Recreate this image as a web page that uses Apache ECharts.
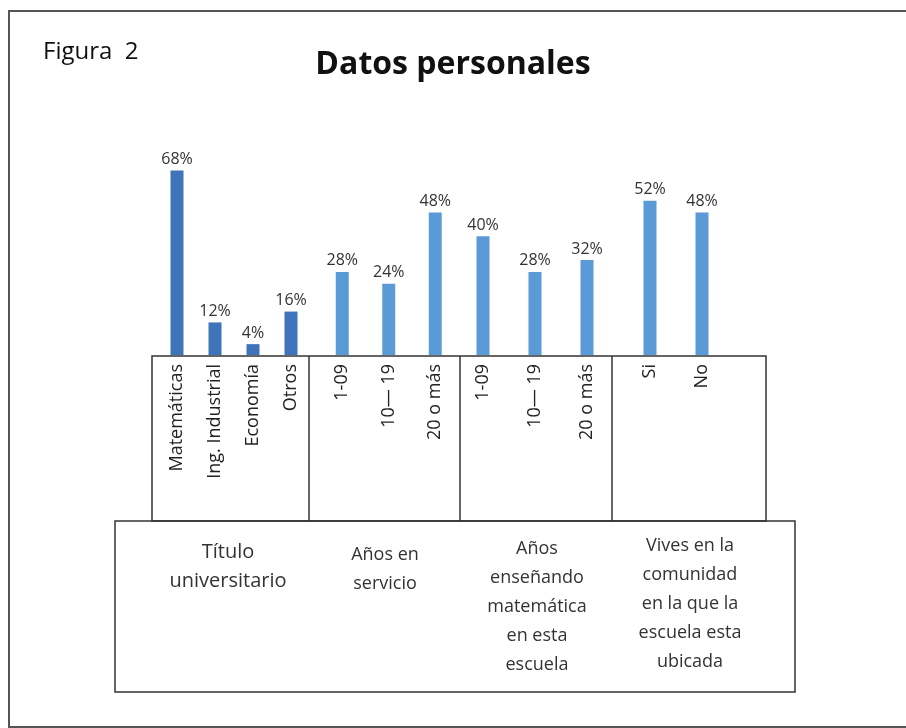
<!DOCTYPE html>
<html>
<head>
<meta charset="utf-8">
<title>Datos personales</title>
<script src="https://cdn.jsdelivr.net/npm/echarts@6/dist/echarts.min.js"></script>
<style>
  html, body { margin: 0; padding: 0; background: #fff; }
  #chart { width: 906px; height: 728px; }
</style>
</head>
<body>
<div id="chart"></div>
<script>
// datos de cada bloque
var titleCats = ['Matemáticas', 'Ing. Industrial', 'Economía', 'Otros'];
var titleVals = [68, 12, 4, 16];
var serviceCats = ['1-09', '10— 19', '20 o más'];
var serviceVals = [28, 24, 48];
var teachCats = ['1-09', '10— 19', '20 o más'];
var teachVals = [40, 28, 32];
var liveCats = ['Si', 'No'];
var liveVals = [52, 48];
var groupTitles = [
  'Título\nuniversitario',
  'Años en\nservicio',
  'Años\nenseñando\nmatemática\nen esta\nescuela',
  'Vives en la\ncomunidad\nen la que la\nescuela esta\nubicada'
];

var font = 'Open Sans';
var dark = '#3f74ba';
var light = '#5a9ad6';

// una grilla por bloque
var blocks = [
  { cats: titleCats, vals: titleVals, left: 158, width: 152, max: 70, color: dark },
  { cats: serviceCats, vals: serviceVals, left: 319, width: 139.5, max: 64, color: light },
  { cats: teachCats, vals: teachVals, left: 457, width: 156, max: 64, color: light },
  { cats: liveCats, vals: liveVals, left: 624, width: 104, max: 64, color: light }
];

var grid = [], xAxis = [], yAxis = [], series = [];
blocks.forEach(function(b, i) {
  grid.push({ left: b.left, width: b.width, top: 165, height: 190 });
  xAxis.push({
    type: 'category',
    gridIndex: i,
    data: b.cats,
    axisLine: { show: false },
    axisTick: { show: false },
    axisLabel: {
      rotate: 90,
      margin: 9,
      fontSize: 18,
      fontFamily: font,
      color: '#222',
      interval: 0
    }
  });
  yAxis.push({
    type: 'value',
    gridIndex: i,
    min: 0,
    max: b.max,
    show: false,
    splitLine: { show: false }
  });
  series.push({
    type: 'bar',
    xAxisIndex: i,
    yAxisIndex: i,
    data: b.vals,
    barWidth: 13,
    itemStyle: { color: b.color },
    label: {
      show: true,
      position: 'top',
      distance: 3,
      formatter: '{c}%',
      fontSize: 16,
      fontFamily: font,
      color: '#333'
    }
  });
});

function boxLine() {
  return { fill: 'none', stroke: '#333', lineWidth: 1.5 };
}
var titleX = [228, 385, 537, 690];
var titleY = [538, 540, 534, 531];

var graphic = [
  { type: 'rect', shape: { x: 9, y: 11, width: 910, height: 716 },
    style: { fill: 'none', stroke: '#555', lineWidth: 2 }, silent: true },
  { type: 'rect', shape: { x: 152, y: 356, width: 614, height: 165 },
    style: boxLine(), silent: true },
  { type: 'rect', shape: { x: 115, y: 521, width: 680, height: 171 },
    style: boxLine(), silent: true }
];
[309, 460, 612].forEach(function(x) {
  graphic.push({ type: 'line', shape: { x1: x, y1: 356, x2: x, y2: 521 },
    style: boxLine(), silent: true });
});
groupTitles.forEach(function(t, i) {
  graphic.push({
    type: 'text',
    x: titleX[i],
    y: titleY[i],
    silent: true,
    style: {
      text: t,
      fontSize: i === 0 ? 20 : 18,
      fontFamily: font,
      lineHeight: 29,
      fill: '#333',
      align: 'center',
      verticalAlign: 'top'
    }
  });
});

var chart = echarts.init(document.getElementById('chart'));
chart.setOption({
  backgroundColor: '#fff',
  animation: false,
  title: [{
    text: 'Datos personales',
    left: 'center',
    top: 44,
    textStyle: { fontSize: 32, fontWeight: 'bold', fontFamily: font, color: '#111' }
  }, {
    text: 'Figura  2',
    left: 38,
    top: 35,
    textStyle: { fontSize: 24, fontWeight: 'normal', fontFamily: font, color: '#111' }
  }],
  grid: grid,
  xAxis: xAxis,
  yAxis: yAxis,
  series: series,
  graphic: graphic
});
</script>
</body>
</html>
